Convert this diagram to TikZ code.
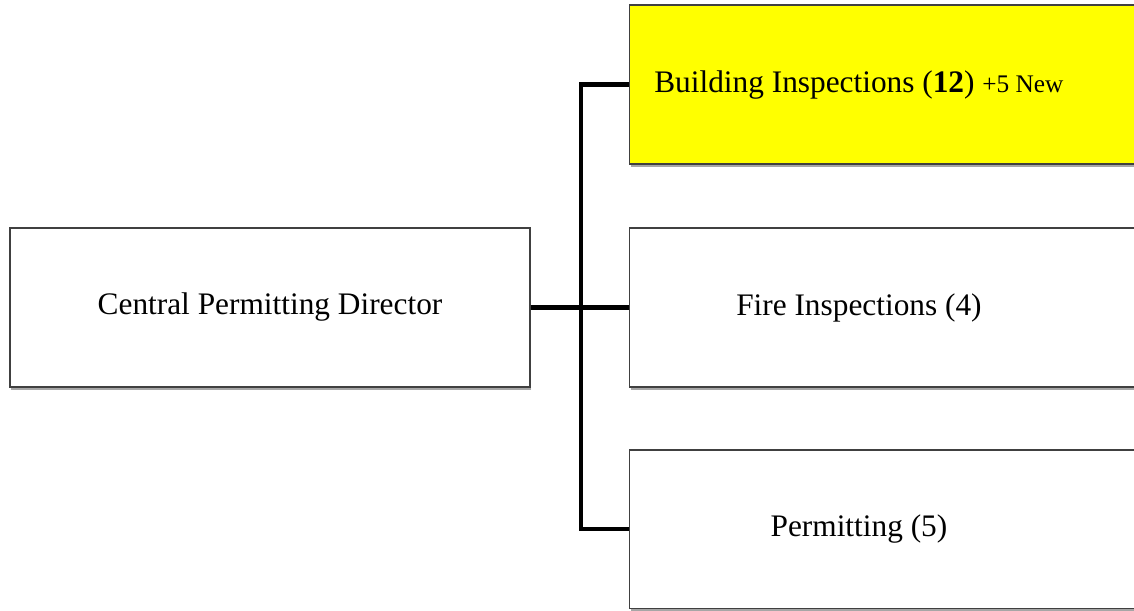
\documentclass[tikz,border=0pt]{standalone}
\usepackage{fontspec}
\setmainfont{Liberation Serif}
\usetikzlibrary{positioning, shadows}
\definecolor{hilite}{RGB}{255,255,0}

\begin{document}
\begin{tikzpicture} [
        x = 0.75pt, y = -0.75pt,
        node distance = 47pt,
        box/.style = {rectangle, draw=black!75, line width=1.2pt, fill=white,
                      minimum width=390pt, minimum height=119pt,
                      font=\fontsize{23.5}{27}\selectfont,
                      drop shadow={shadow xshift=0.8pt, shadow yshift=-2.2pt, fill=black, opacity=0.35}},
        unit/.style = {box, label={[xshift=-23pt, font=\fontsize{23.5}{27}\selectfont]center:#1}},
        wire/.style = {draw, line width=3.2pt}
    ]

    \path[use as bounding box, clip] (0,0) rectangle (1134,610);

    \node[box] (director) at (270,307.5) {Central Permitting Director};
    \node[unit={Fire Inspections (4)}, right=73.5pt of director] (fire) {};
    \node[unit={Building Inspections (\textbf{12}) {\fontsize{19}{22}\selectfont +5 New}}, fill=hilite, above=of fire] (building) {};
    \node[unit={Permitting (5)}, below=46pt of fire] (permit) {};

    \coordinate[right=37.5pt of director.east] (bus);
    \path[wire] (director.east) -- (fire.west);
    \path[wire] (building.west) -| (bus) |- (permit.west);

\end{tikzpicture}
\end{document}
